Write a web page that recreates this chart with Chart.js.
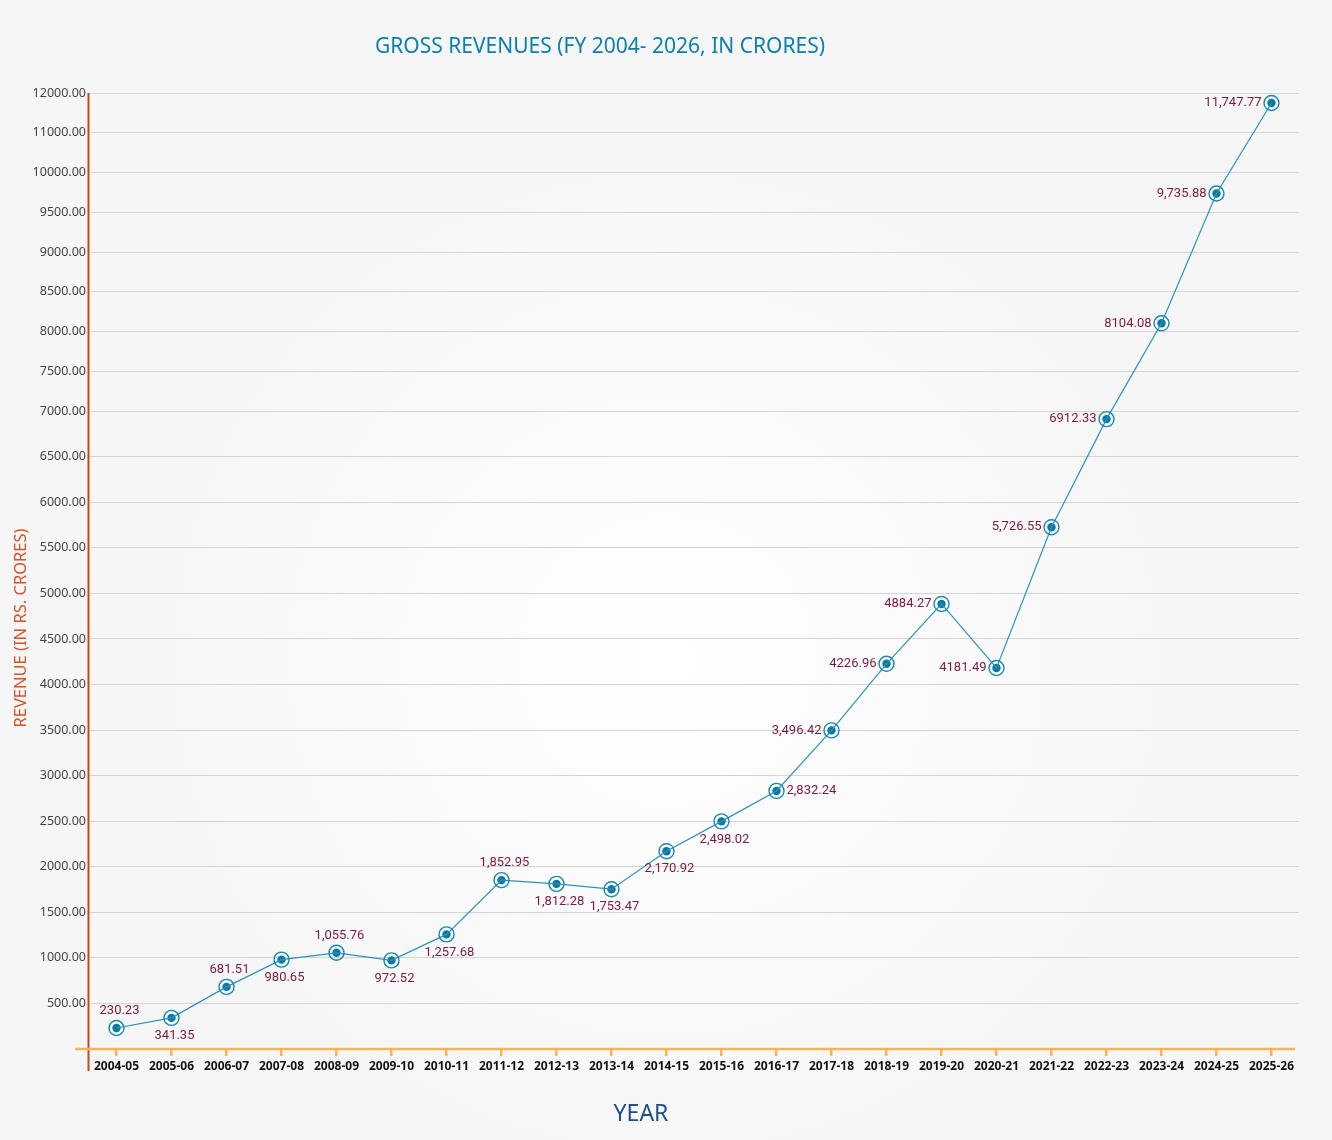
<!DOCTYPE html>
<html>
<head>
<meta charset="utf-8">
<title>Gross Revenues</title>
<script src="https://cdn.jsdelivr.net/npm/chart.js@4.4.1/dist/chart.umd.min.js"></script>
<style>
    html, body {
        margin: 0;
        padding: 0;
    }
    body {
        background: radial-gradient(ellipse at 50% 58%, #ffffff 0%, #fbfbfb 25%, #f6f6f6 55%);
        width: 1332px;
        height: 1140px;
        overflow: hidden;
    }
    #wrap {
        position: relative;
        width: 1332px;
        height: 1140px;
    }
</style>
</head>
<body>
<div id="wrap"><canvas id="myChart"></canvas></div>
<script>
const years = ["2004-05", "2005-06", "2006-07", "2007-08", "2008-09", "2009-10", "2010-11",
    "2011-12", "2012-13", "2013-14", "2014-15", "2015-16", "2016-17", "2017-18", "2018-19",
    "2019-20", "2020-21", "2021-22", "2022-23", "2023-24", "2024-25", "2025-26"];

const revenue = [230.23, 341.35, 681.51, 980.65, 1055.76, 972.52, 1257.68, 1852.95, 1812.28,
    1753.47, 2170.92, 2498.02, 2832.24, 3496.42, 4226.96, 4884.27, 4181.49, 5726.55, 6912.33,
    8104.08, 9735.88, 11747.77];

// labels as printed on the chart (some with thousands separators, some without)
const valueLabels = ["230.23", "341.35", "681.51", "980.65", "1,055.76", "972.52", "1,257.68",
    "1,852.95", "1,812.28", "1,753.47", "2,170.92", "2,498.02", "2,832.24", "3,496.42", "4226.96",
    "4884.27", "4181.49", "5,726.55", "6912.33", "8104.08", "9,735.88", "11,747.77"];

const yTicks = [500, 1000, 1500, 2000, 2500, 3000, 3500, 4000, 4500, 5000, 5500, 6000, 6500,
    7000, 7500, 8000, 8500, 9000, 9500, 10000, 11000, 12000];

const labelSide = ["above", "below", "above", "below", "above", "below", "below", "above",
    "below", "below", "below", "below", "right", "left", "left", "left", "left", "left",
    "left", "left", "left", "left"];


// y axis whose ticks sit at uneven value steps; each tick gap gets its own share of the height
class StepScale extends Chart.LinearScale {
    determineDataLimits() {
        let stops = this.options.stops;
        this.min = 0;
        this.max = stops[stops.length - 1];
    }

    buildTicks() {
        let out = [];
        let stops = this.options.stops;
        for (let k = 0; k < stops.length; k++) {
            out.push({value: stops[k]});
        }
        return out;
    }

    _segments() {
        let o = this.options;
        let stops = [0];
        for (let k = 0; k < o.stops.length; k++) stops.push(o.stops[k]);
        let weights = [];
        let total = 0;
        for (let k = 1; k < stops.length; k++) {
            let w = stops[k] <= o.splitAt ? o.gapLow : o.gapHigh;
            weights.push(w);
            total += w;
        }
        return {stops: stops, weights: weights, total: total};
    }

    getPixelForValue(value) {
        let seg = this._segments();
        let acc = 0;
        for (let k = 0; k < seg.weights.length; k++) {
            let a = seg.stops[k], b = seg.stops[k + 1];
            if (value <= b || k === seg.weights.length - 1) {
                let f = (value - a) / (b - a);
                return this.getPixelForDecimal((acc + f * seg.weights[k]) / seg.total);
            }
            acc += seg.weights[k];
        }
    }

    getValueForPixel(pixel) {
        let dec = this.getDecimalForPixel(pixel);
        let seg = this._segments();
        let target = dec * seg.total;
        let acc = 0;
        for (let k = 0; k < seg.weights.length; k++) {
            if (target <= acc + seg.weights[k] || k === seg.weights.length - 1) {
                let f = (target - acc) / seg.weights[k];
                return seg.stops[k] + f * (seg.stops[k + 1] - seg.stops[k]);
            }
            acc += seg.weights[k];
        }
    }
}
StepScale.id = "stepScale";
StepScale.defaults = {};
Chart.register(StepScale);


const decorPlugin = {
    id: "decor",
    beforeDatasetsDraw(chart) {
        let ctx = chart.ctx;
        let area = chart.chartArea;
        ctx.save();
        // y axis line, runs a bit past the x axis
        ctx.strokeStyle = "#c8471f";
        ctx.lineWidth = 2;
        ctx.beginPath();
        ctx.moveTo(area.left - 0.5, area.top);
        ctx.lineTo(area.left - 0.5, area.bottom + 22);
        ctx.stroke();
        // x axis line
        ctx.strokeStyle = "#fbb54f";
        ctx.lineWidth = 2.5;
        ctx.beginPath();
        ctx.moveTo(area.left - 14, area.bottom);
        ctx.lineTo(area.right - 4, area.bottom);
        ctx.stroke();
        ctx.restore();
    },
    afterDraw(chart) {
        let ctx = chart.ctx;
        ctx.save();
        ctx.textAlign = "center";
        ctx.textBaseline = "alphabetic";

        ctx.fillStyle = "#0b80ad";
        ctx.font = "21px 'Noto Sans'";
        ctx.fillText("GROSS REVENUES (FY 2004- 2026, IN CRORES)", 600, 53);

        ctx.fillStyle = "#1e4f8a";
        ctx.font = "23px 'Noto Sans'";
        ctx.fillText("YEAR", 641, 1121);

        ctx.translate(26, 628);
        ctx.rotate(-Math.PI / 2);
        ctx.fillStyle = "#d4542a";
        ctx.font = "16.5px 'Noto Sans'";
        ctx.fillText("REVENUE (IN RS. CRORES)", 0, 0);
        ctx.restore();

        // value labels next to each point
        let meta = chart.getDatasetMeta(0);
        ctx.save();
        ctx.fillStyle = "#7c1a3b";
        ctx.font = "13px Roboto";
        meta.data.forEach(function (pt, n) {
            let side = labelSide[n];
            let txt = valueLabels[n];
            ctx.textBaseline = "middle";
            if (side === "above") {
                ctx.textAlign = "center";
                ctx.fillText(txt, pt.x + 3, pt.y - 17);
            } else if (side === "below") {
                ctx.textAlign = "center";
                ctx.fillText(txt, pt.x + 3, pt.y + 18);
            } else if (side === "left") {
                ctx.textAlign = "right";
                ctx.fillText(txt, pt.x - 10, pt.y);
            } else {
                ctx.textAlign = "left";
                ctx.fillText(txt, pt.x + 10, pt.y);
            }
        });
        ctx.restore();
    }
};


let data = {
    labels: years,
    datasets: [
        {
            label: "Gross revenue",
            data: revenue,
            borderColor: "#2a92bf",
            borderWidth: 1.2,
            tension: 0,
            pointRadius: 7.5,
            pointHoverRadius: 7.5,
            pointBorderWidth: 1.4,
            pointBorderColor: "#1787b4",
            pointBackgroundColor: "rgba(255,255,255,0)"
        },
        {
            label: "dot",
            data: revenue,
            showLine: false,
            pointRadius: 4.2,
            pointHoverRadius: 4.2,
            pointBorderWidth: 0,
            pointBackgroundColor: "#0a79a4"
        }
    ]
};

let config = {
    type: "line",
    data: data,
    options: {
        responsive: true,
        maintainAspectRatio: false,
        animation: false,
        layout: {
            padding: {top: 93, right: 33, bottom: 61, left: 0}
        },
        plugins: {
            legend: {display: false},
            title: {display: false},
            tooltip: {enabled: false}
        },
        scales: {
            x: {
                type: "category",
                offset: true,
                border: {display: false},
                grid: {
                    offset: false,
                    drawOnChartArea: false,
                    drawTicks: true,
                    tickLength: 7,
                    color: "#fbb54f",
                    lineWidth: 2.5
                },
                ticks: {
                    color: "#111111",
                    font: {family: "'Noto Sans'", size: 12, weight: "bold"},
                    padding: 3,
                    maxRotation: 0,
                    autoSkip: false
                },
                afterFit(scale) {
                    scale.height = 30;
                }
            },
            y: {
                type: "stepScale",
                stops: yTicks,
                splitAt: 7000,
                gapLow: 45.6,
                gapHigh: 39.8,
                border: {display: false},
                grid: {
                    color: "#d4d4d4",
                    lineWidth: 1,
                    drawTicks: false
                },
                ticks: {
                    color: "#444444",
                    font: {family: "'Noto Sans'", size: 12.5},
                    padding: 3,
                    autoSkip: false,
                    callback: function (value) {
                        return Number(value).toFixed(2);
                    }
                },
                afterFit(scale) {
                    scale.width = 89;
                }
            }
        }
    },
    plugins: [decorPlugin]
};

let myChart = new Chart(document.getElementById("myChart"), config);
</script>
</body>
</html>
